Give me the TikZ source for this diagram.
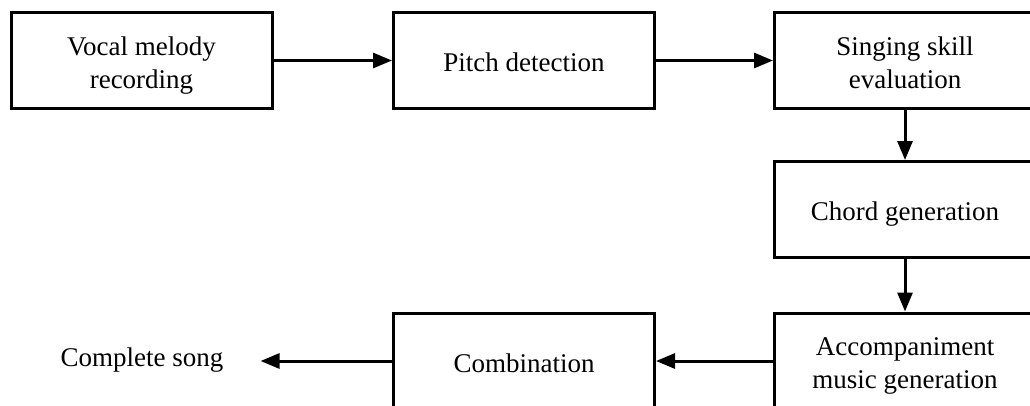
\documentclass[tikz,border=0pt]{standalone}
\usepackage{fontspec}
\setmainfont{Liberation Serif}
\usetikzlibrary{arrows.meta}
\begin{document}
\begin{tikzpicture}[x=1pt,y=-1pt,
  stage/.style={draw, line width=3pt, minimum width=261pt, minimum height=96pt,
    align=center, inner sep=0pt, font=\fontsize{27}{33}\selectfont,
    text height=22pt, text depth=0pt},
  stagetwo/.style={stage, text height=57pt, text depth=2pt},
  label/.style={inner sep=0pt, font=\fontsize{27}{33}\selectfont},
  flow/.style={line width=3pt, -{Triangle[length=19pt,width=15pt]}}]
\useasboundingbox (0,0) rectangle (1030,405);
\clip (0,0) rectangle (1030,405);

% processing stages
\node[stagetwo] (rec)   at (141.5,60.5) {Vocal melody\\recording};
\node[stage]    (pitch) at (524,60.5)   {Pitch detection};
\node[stagetwo] (skill) at (905,60.5)   {Singing skill\\evaluation};
\node[stage]    (chord) at (905,209.5)  {Chord generation};
\node[stagetwo] (acc)   at (905,361)    {Accompaniment\\music generation};
\node[stage]    (comb)  at (524,361)    {Combination};
\node[label]    (song)  at (142,360)    {Complete song};

% flow between stages
\draw[flow] (rec.east) -- (pitch.west);
\draw[flow] (pitch.east) -- (skill.west);
\draw[flow] (skill.south) -- (chord.north);
\draw[flow] (chord.south) -- (acc.north);
\draw[flow] (acc.west) -- (comb.east);
\draw[flow, shorten >=37pt] (comb.west) -- (comb.west -| song.east);
\end{tikzpicture}
\end{document}
